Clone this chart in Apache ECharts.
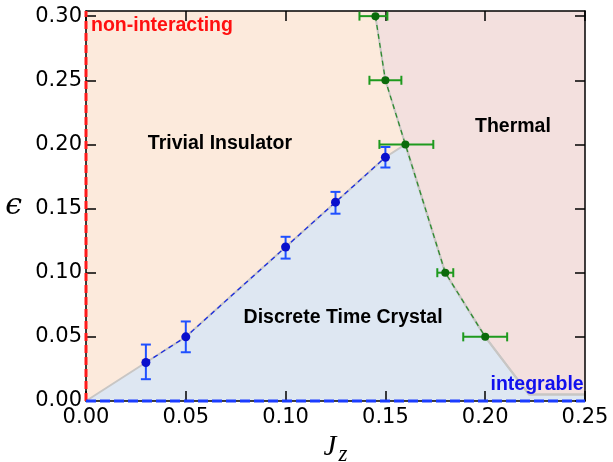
<!DOCTYPE html>
<html>
<head>
<meta charset="utf-8">
<script src="https://cdn.jsdelivr.net/npm/echarts@6/dist/echarts.min.js"></script>
<style>html,body{margin:0;padding:0;background:#fff;}#c{width:613px;height:462px;}</style>
</head>
<body>
<div id="c"></div>
<script>
// ---- data ----
const xTicks = [0, 0.05, 0.10, 0.15, 0.20, 0.25];
const yTicks = [0, 0.05, 0.10, 0.15, 0.20, 0.25, 0.30];
// DTC critical points: [Jz, eps, epsLow, epsHigh]
const dtcPoints = [
  [0.03, 0.030, 0.017, 0.044],
  [0.05, 0.050, 0.038, 0.062],
  [0.10, 0.120, 0.111, 0.128],
  [0.125, 0.155, 0.146, 0.163],
  [0.15, 0.190, 0.182, 0.198]
];
// thermal points: [Jz, eps, JzLow, JzHigh]
const thermalPoints = [
  [0.145, 0.300, 0.137, 0.151],
  [0.150, 0.250, 0.142, 0.158],
  [0.160, 0.200, 0.147, 0.174],
  [0.180, 0.100, 0.176, 0.184],
  [0.200, 0.050, 0.189, 0.211]
];
// region boundaries
const dtcBoundary = [[0,0],[0.03,0.03],[0.05,0.05],[0.10,0.12],[0.125,0.155],[0.15,0.19],[0.16,0.20],[0.18,0.10],[0.20,0.05],[0.222,0.005],[0.25,0.005]];
const thermalBoundary = [[0.145,0.30],[0.15,0.25],[0.16,0.20],[0.18,0.10],[0.20,0.05],[0.222,0.005],[0.25,0.005]];
const nonInteractingLine = [[0,0],[0,0.304]];
const integrableLine = [[0,0],[0.25,0]];
// annotations: [Jz, eps, text]
const labelsRed = [[0.0025, 0.2927, 'non-interacting']];
const labelsBlack = [[0.0671, 0.2008, 'Trivial Insulator'],[0.2139, 0.2140, 'Thermal'],[0.1288, 0.0651, 'Discrete Time Crystal']];
const labelsBlue = [[0.226, 0.0129, 'integrable']];

const chart = echarts.init(document.getElementById('c'), null, {renderer:'canvas'});

const tickStyle = {inside:true, length:10, lineStyle:{color:'#000', width:1.5}};
const axisLineStyle = {show:true, onZero:false, lineStyle:{color:'#000', width:1.5}};
const labelFont = {fontFamily:'DejaVu Sans', fontSize:21, color:'#000'};

function vErr(params, api){
  const x = api.value(0), lo = api.value(2), hi = api.value(3);
  const a = api.coord([x, lo]), b = api.coord([x, hi]);
  const st = {stroke:'#1f50ff', lineWidth:2};
  const w = 5;
  return {type:'group', children:[
    {type:'line', shape:{x1:a[0],y1:a[1],x2:b[0],y2:b[1]}, style:st},
    {type:'line', shape:{x1:a[0]-w,y1:a[1],x2:a[0]+w,y2:a[1]}, style:st},
    {type:'line', shape:{x1:b[0]-w,y1:b[1],x2:b[0]+w,y2:b[1]}, style:st}
  ]};
}
function hErr(params, api){
  const y = api.value(1), lo = api.value(2), hi = api.value(3);
  const a = api.coord([lo, y]), b = api.coord([hi, y]);
  const st = {stroke:'#1e9a1e', lineWidth:2};
  const h = 4.5;
  return {type:'group', children:[
    {type:'line', shape:{x1:a[0],y1:a[1],x2:b[0],y2:b[1]}, style:st},
    {type:'line', shape:{x1:a[0],y1:a[1]-h,x2:a[0],y2:a[1]+h}, style:st},
    {type:'line', shape:{x1:b[0],y1:b[1]-h,x2:b[0],y2:b[1]+h}, style:st}
  ]};
}
function textSeries(data, color, align){
  return {type:'scatter', data:data, symbolSize:1, itemStyle:{color:'rgba(0,0,0,0)'}, z:9, silent:true, clip:false,
    label:{show:true, position:'inside', formatter:p=>p.data[2], color:color, fontFamily:'Liberation Sans, Arial, sans-serif',
      fontWeight:'bold', fontSize:19.5, align:align, verticalAlign:'middle', opacity:1,
      textBorderWidth:0, textBorderColor:'transparent', textShadowBlur:0}};
}

chart.setOption({
  animation:false,
  backgroundColor:'#fff',
  grid:{left:86, right:28, top:11, bottom:61, outerBoundsMode:'none', containLabel:false,
        show:true, backgroundColor:'rgb(252,234,220)', borderWidth:0},
  xAxis:[
    {type:'value', min:0, max:0.25, interval:0.05, position:'bottom', z:5,
     axisLine:axisLineStyle, axisTick:tickStyle, splitLine:{show:false},
     axisLabel:Object.assign({margin:6, formatter:v=>v.toFixed(2), customValues:xTicks}, labelFont),
     name:'{j|J}{z|z}', nameLocation:'middle', nameGap:30,
     nameTextStyle:{rich:{
       j:{fontFamily:'Liberation Serif, serif', fontStyle:'italic', fontSize:29, color:'#000', verticalAlign:'bottom', padding:[0,2,5,0]},
       z:{fontFamily:'Liberation Serif, serif', fontStyle:'italic', fontSize:23, color:'#000', verticalAlign:'bottom'}
     }}},
    {type:'value', min:0, max:0.25, interval:0.05, position:'top', z:5,
     axisLine:axisLineStyle, axisTick:tickStyle, axisLabel:{show:false}, splitLine:{show:false}}
  ],
  yAxis:[
    {type:'value', min:0, max:0.304, interval:0.05, position:'left', z:5,
     axisLine:axisLineStyle, axisTick:Object.assign({customValues:yTicks}, tickStyle), splitLine:{show:false},
     axisLabel:Object.assign({margin:4, formatter:v=>v.toFixed(2), customValues:yTicks}, labelFont),
     name:'ϵ', nameLocation:'middle', nameRotate:0, nameGap:64,
     nameTextStyle:{fontFamily:'DejaVu Serif, serif', fontStyle:'italic', fontSize:30, color:'#000'}},
    {type:'value', min:0, max:0.304, interval:0.05, position:'right', z:5,
     axisLine:axisLineStyle, axisTick:Object.assign({customValues:yTicks}, tickStyle), axisLabel:{show:false}, splitLine:{show:false}}
  ],
  series:[
    {type:'line', data:dtcBoundary, symbol:'none', z:1, silent:true,
     lineStyle:{color:'rgb(200,198,196)', width:2}, areaStyle:{color:'rgb(222,231,242)', opacity:1, origin:'start'}},
    {type:'line', data:thermalBoundary, symbol:'none', z:1, silent:true,
     lineStyle:{color:'rgb(200,198,196)', width:2}, areaStyle:{color:'rgb(243,224,222)', opacity:1, origin:'end'}},
    {type:'line', data:dtcPoints.map(p=>[p[0],p[1]]), symbol:'none', z:3,
     lineStyle:{color:'#1a2be0', width:1.3, type:[5,4]}},
    {type:'line', data:thermalPoints.map(p=>[p[0],p[1]]), symbol:'none', z:3,
     lineStyle:{color:'#2e8b2e', width:1.3, type:[5,4]}},
    {type:'custom', data:dtcPoints, renderItem:vErr, encode:{x:0,y:1}, z:6, clip:false},
    {type:'custom', data:thermalPoints, renderItem:hErr, encode:{x:0,y:1}, z:6, clip:false},
    {type:'scatter', data:dtcPoints.map(p=>[p[0],p[1]]), symbolSize:9, itemStyle:{color:'#0a0fcc', opacity:1}, z:7},
    {type:'scatter', data:thermalPoints.map(p=>[p[0],p[1]]), symbolSize:8, itemStyle:{color:'#0b6b0b', opacity:1}, z:7},
    {type:'line', data:nonInteractingLine, symbol:'none', z:8, clip:false,
     lineStyle:{color:'#ff1a1a', width:3, type:[8,4]}},
    {type:'line', data:integrableLine, symbol:'none', z:8, clip:false,
     lineStyle:{color:'#1a3cff', width:3, type:[10,4]}},
    textSeries(labelsRed, '#ff1010', 'left'),
    textSeries(labelsBlack, '#000', 'center'),
    textSeries(labelsBlue, '#1010ee', 'center')
  ]
});
</script>
</body>
</html>
